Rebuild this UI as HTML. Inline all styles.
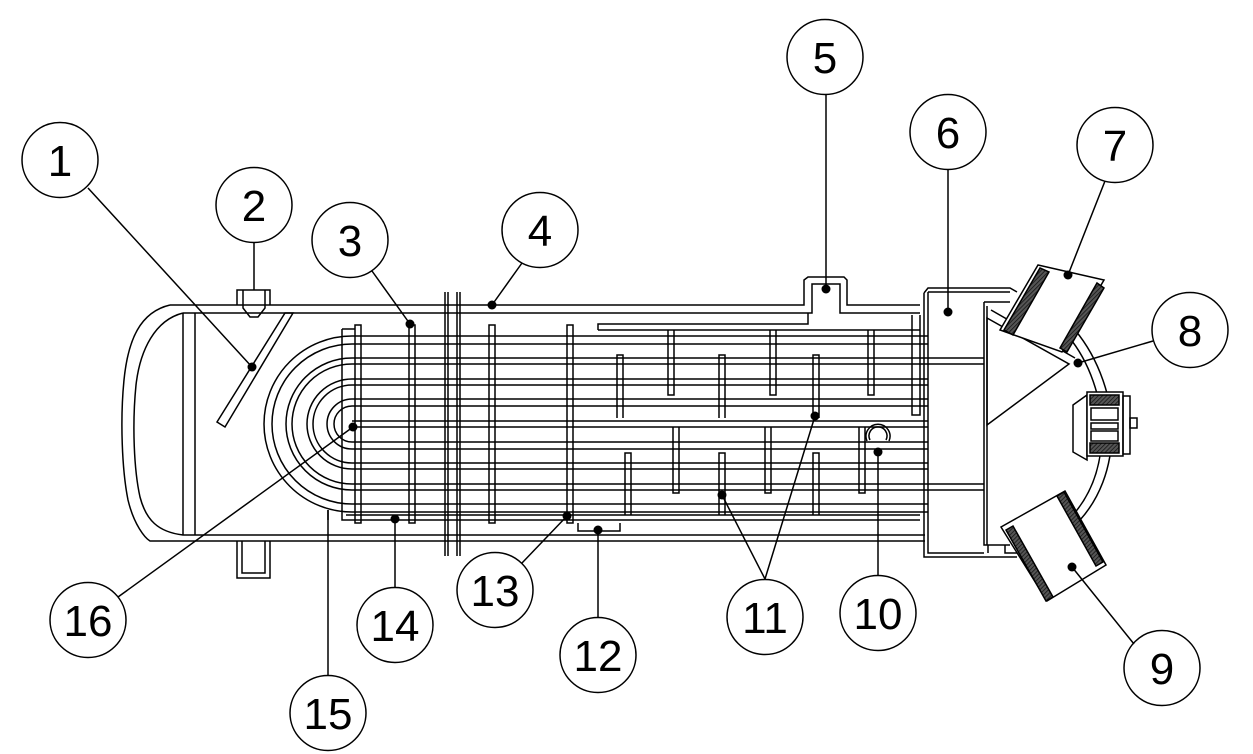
<!DOCTYPE html>
<html><head><meta charset="utf-8"><style>
html,body{margin:0;padding:0;background:#fff;}
svg{display:block;}
text{font-family:"Liberation Sans",Arial,sans-serif;font-size:44px;text-anchor:middle;fill:#000;}
</style></head><body>
<svg width="1253" height="754" viewBox="0 0 1253 754" xmlns="http://www.w3.org/2000/svg">
<defs>
<pattern id="h" width="3" height="3" patternUnits="userSpaceOnUse" patternTransform="rotate(45)">
<rect width="3" height="3" fill="#555"/><line x1="0" y1="0" x2="0" y2="3" stroke="#111" stroke-width="1.5"/></pattern>
</defs>
<g fill="none" stroke="#000" stroke-width="1.5">
<!-- shell -->
<path d="M170,305 L804,305 L804,280 L808,277 L844,277 L847,280 L847,305 L920,305"/>
<path d="M183,313 L812,313 L812,284 L840,284 L840,313 L920,313"/>
<path d="M170,305 C140,312 128,340 124,380 C120,420 122,470 128,500 C134,525 145,538 150,541 L925,541"/>
<path d="M183,313 C155,320 140,350 136,385 C132,425 134,470 140,497 C146,520 158,532 183,535 L925,535"/>
<line x1="183" y1="313" x2="183" y2="535"/><line x1="195" y1="313" x2="195" y2="535"/>
<!-- nozzle 2 -->
<path d="M237,305 L237,290 L270,290 L270,305"/>
<path d="M243,290 L243,308 L250,317 L258,317 L265,308 L265,290"/>
<!-- slanted plate 1 -->
<polygon points="285,313 293,313 225,427 217,422"/>
<!-- legs -->
<path d="M237,541 L237,578 L270,578 L270,541"/><path d="M242,541 L242,573 L265,573 L265,541"/>
<!-- u tubes -->
<path d="M352,336 A88,88 0 0 0 352,512"/><path d="M352,344 A80,80 0 0 0 352,504"/>
<path d="M352,358 A66,66 0 0 0 352,490"/><path d="M352,364 A60,60 0 0 0 352,484"/>
<path d="M352,379 A45,45 0 0 0 352,469"/><path d="M352,385 A39,39 0 0 0 352,463"/>
<path d="M352,399 A25,25 0 0 0 352,449"/><path d="M352,406 A18,18 0 0 0 352,442"/>
<g>
<line x1="352" y1="336" x2="928" y2="336"/><line x1="352" y1="344" x2="928" y2="344"/>
<line x1="352" y1="358" x2="984" y2="358"/><line x1="352" y1="364" x2="984" y2="364"/>
<line x1="352" y1="379" x2="928" y2="379"/><line x1="352" y1="385" x2="928" y2="385"/>
<line x1="352" y1="399" x2="928" y2="399"/><line x1="352" y1="406" x2="928" y2="406"/>
<line x1="352" y1="421" x2="928" y2="421"/><line x1="352" y1="427" x2="928" y2="427"/>
<line x1="352" y1="442" x2="928" y2="442"/><line x1="352" y1="449" x2="928" y2="449"/>
<line x1="352" y1="463" x2="928" y2="463"/><line x1="352" y1="469" x2="928" y2="469"/>
<line x1="352" y1="484" x2="984" y2="484"/><line x1="352" y1="490" x2="984" y2="490"/>
<line x1="352" y1="504" x2="928" y2="504"/><line x1="352" y1="512" x2="928" y2="512"/>
</g>
<!-- baffle bottom plate -->
<path d="M342,329 L342,520 L920,520"/><path d="M346,515 L920,515"/><path d="M342,329 L355,329"/>
<path d="M578,523 L578,531 L620,531 L620,523"/>
<line x1="328" y1="510" x2="328" y2="520"/>
<!-- full baffles -->
<g>
<rect x="355" y="325" width="6" height="198"/><rect x="409" y="325" width="6" height="198"/>
<rect x="489" y="325" width="6" height="198"/><rect x="567" y="325" width="6" height="198"/>
</g>
<!-- tube sheet flange -->
<path d="M445,292 L445,556 M448,292 L448,556 M457,292 L457,556 M460,292 L460,556"/>
<!-- longitudinal plate & partial baffles -->
<path d="M598,330 L598,324 L808,324 L808,313"/>
<path d="M598,330 L920,330"/>
<path d="M668,330 L668,395 L674,395 L674,330 M770,330 L770,395 L776,395 L776,330 M868,330 L868,395 L874,395 L874,330"/>
<path d="M617,418 L617,355 L623,355 L623,418 M719,418 L719,355 L725,355 L725,418 M813,418 L813,355 L819,355 L819,418"/>
<path d="M912,315 L912,415 L920,415 L920,315"/>
<path d="M673,427 L673,493 L679,493 L679,427 M765,427 L765,493 L771,493 L771,427 M859,427 L859,493 L865,493 L865,427"/>
<path d="M625,515 L625,453 L631,453 L631,515 M719,515 L719,453 L725,453 L725,515 M813,515 L813,453 L819,453 L819,515"/>
<path d="M870,440 A9,9 0 1 1 886,440"/><path d="M867,441 A12,12 0 1 1 889,441"/>
<!-- channel box -->
<path d="M924,293 L928,288 L1010,288 L1017,292 M924,293 L924,557 L1017,557"/>
<path d="M928,292 L1010,292 M928,292 L928,553 L984,553"/>
<path d="M984,302 L1010,302 M984,302 L984,545 L1010,545 M987,306 L987,545"/>
<path d="M988,545 L988,553 M1005,545 L1005,553 L1017,553"/>
<polygon points="987,318 1069,364 987,425"/>
<path d="M991,310 L1075,358"/>
<!-- head arcs -->
<path d="M1075,330 C1100,360 1112,400 1112,430 C1112,470 1098,500 1080,520"/>
<path d="M1068,336 C1090,362 1102,400 1102,430 C1102,468 1090,496 1072,516"/>
<!-- side element -->
<path d="M1073,405 L1087,395 L1087,460 L1073,452 Z" fill="#fff"/>
<rect x="1087" y="392" width="36" height="64" fill="#fff"/>
<rect x="1090" y="395" width="29" height="10" fill="url(#h)"/>
<rect x="1090" y="443" width="29" height="10" fill="url(#h)"/>
<rect x="1091" y="408" width="27" height="12"/><rect x="1091" y="423" width="27" height="6"/><rect x="1091" y="431" width="27" height="10"/>
<rect x="1123" y="396" width="7" height="58"/><rect x="1130" y="418" width="7" height="10"/>
<!-- nozzle 7 -->
<polygon points="1000,330 1038,265 1104,280 1062,352" fill="#fff"/>
<polygon points="1004,330 1040,268 1049,272 1013,335" fill="url(#h)"/>
<polygon points="1060,348 1097,283 1104,288 1067,352" fill="url(#h)"/>
<!-- nozzle 9 -->
<polygon points="1001,527 1065,491 1106,565 1047,601" fill="#fff"/>
<polygon points="1006,530 1013,526 1053,597 1046,601" fill="url(#h)"/>
<polygon points="1057,496 1064,492 1103,562 1096,566" fill="url(#h)"/>
<!-- labels -->
<ellipse cx="60" cy="160" rx="38" ry="37.5"/><ellipse cx="254" cy="205" rx="38" ry="37.5"/>
<ellipse cx="350" cy="240" rx="38" ry="37.5"/><ellipse cx="540" cy="230" rx="38" ry="37.5"/>
<ellipse cx="825" cy="57" rx="38" ry="37.5"/><ellipse cx="948" cy="132" rx="38" ry="37.5"/>
<ellipse cx="1115" cy="145" rx="38" ry="37.5"/><ellipse cx="1190" cy="330" rx="38" ry="37.5"/>
<ellipse cx="1162" cy="668" rx="38" ry="37.5"/><ellipse cx="878" cy="613" rx="38" ry="37.5"/>
<ellipse cx="765" cy="617" rx="38" ry="37.5"/><ellipse cx="598" cy="655" rx="38" ry="37.5"/>
<ellipse cx="495" cy="590" rx="38" ry="37.5"/><ellipse cx="395" cy="625" rx="38" ry="37.5"/>
<ellipse cx="328" cy="713" rx="38" ry="37.5"/><ellipse cx="88" cy="620" rx="38" ry="37.5"/>
<!-- leaders -->
<path d="M88,188 L252,367 M254,243 L254,290 M372,271 L410,324 M522,263 L492,305 M826,95 L826,289 M948,170 L948,312 M1105,181 L1068,275 M1153,341 L1078,363 M1134,644 L1072,567 M878,575 L878,452 M765,579 L722,495 M765,579 L815,416 M598,617 L598,530 M522,563 L567,516 M395,587 L395,519 M328,675 L328,510 M118,597 L353,427"/>
</g>
<g fill="#000">
<circle cx="252" cy="367" r="4.5"/><circle cx="410" cy="324" r="4.5"/><circle cx="492" cy="305" r="4.5"/>
<circle cx="826" cy="289" r="4.5"/><circle cx="948" cy="312" r="4.5"/><circle cx="1068" cy="275" r="4.5"/>
<circle cx="1078" cy="363" r="4.5"/><circle cx="1072" cy="567" r="4.5"/><circle cx="878" cy="452" r="4.5"/>
<circle cx="722" cy="495" r="4.5"/><circle cx="815" cy="416" r="4.5"/><circle cx="598" cy="530" r="4.5"/>
<circle cx="567" cy="516" r="4.5"/><circle cx="395" cy="519" r="4.5"/><circle cx="353" cy="427" r="4.5"/>
</g>
<g>
<text x="60" y="176">1</text><text x="254" y="221">2</text><text x="350" y="256">3</text>
<text x="540" y="246">4</text><text x="825" y="73">5</text><text x="948" y="148">6</text>
<text x="1115" y="161">7</text><text x="1190" y="346">8</text><text x="1162" y="684">9</text>
<text x="878" y="629">10</text><text x="765" y="633">11</text><text x="598" y="671">12</text>
<text x="495" y="606">13</text><text x="395" y="641">14</text><text x="328" y="729">15</text>
<text x="88" y="636">16</text>
</g>
</svg>
</body></html>
